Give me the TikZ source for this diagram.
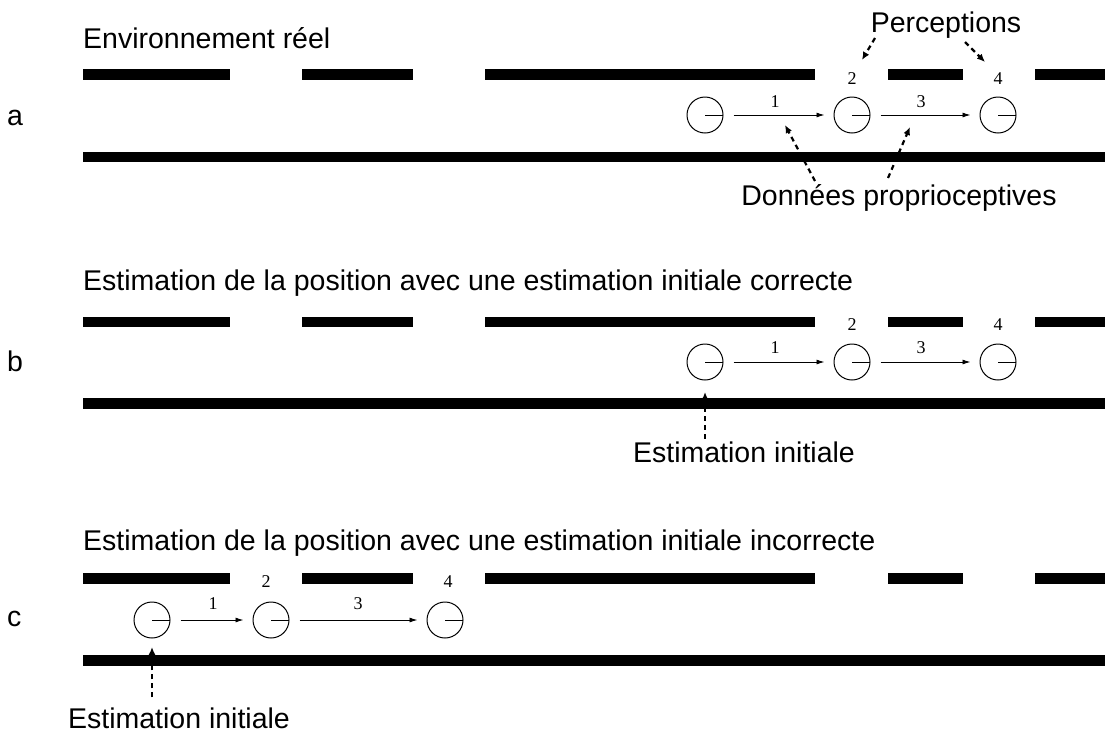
\documentclass[tikz,border=0pt]{standalone}
\usepackage{fontspec}
\setmainfont{Liberation Sans}
\newfontfamily\numfont{Liberation Serif}
\usetikzlibrary{arrows.meta,calc}
\begin{document}
\begin{tikzpicture}[x=1pt,y=-1pt,
  robot/.style={circle,draw,line width=1pt,minimum size=36pt,inner sep=0pt,
    path picture={\draw[line width=1pt] (path picture bounding box.center) -- (path picture bounding box.east);}},
  move/.style={-{Latex[length=8pt,width=5pt]},line width=0.9pt,shorten <=10pt,shorten >=9pt},
  num/.style={font=\numfont\fontsize{18}{20}\selectfont,inner sep=0pt},
  lbl/.style={font=\fontsize{28.5}{32}\selectfont,inner sep=0pt},
  pointer/.style={-{Latex[length=8pt,width=7pt]},line width=2.2pt,dash pattern=on 5pt off 4pt},
  wall/.style={fill=black}]
\useasboundingbox (0,0) rectangle (1105,734);

% walls
\foreach \t/\b in {69.3/151.5, 316.5/398, 573/655}{
  \foreach \l/\r in {83/230, 302/413, 485/815, 888/963, 1035/1105}
    \fill[wall] (\l,\t) rectangle (\r,\t+10.5);
  \fill[wall] (83,\b) rectangle (1105,\b+10.5);
}

% row labels and titles
\node[lbl,anchor=base west] (la) at (7,125.7) {a};
\node[lbl,anchor=base west] (lb) at (7,371.7) {b};
\node[lbl,anchor=base west] (lc) at (7,626.7) {c};
\node[lbl,anchor=base west] (ta) at (83,48.3) {Environnement réel};
\node[lbl,anchor=base west] (tb) at (83,290) {Estimation de la position avec une estimation initiale correcte};
\node[lbl,anchor=base west] (tc) at (83,550) {Estimation de la position avec une estimation initiale incorrecte};

% ---- a
\node[robot] (a1) at (705,115) {};
\node[robot] (a2) at (852,115) {};
\node[robot] (a3) at (998,115) {};
\draw[move] (a1) -- (a2);
\draw[move] (a2) -- (a3);
\node[num] (a1n) at (775,102) {1};
\node[num] (a3n) at (921,102) {3};
\node[num] (a2n) at (852,79) {2};
\node[num] (a4n) at (998,79) {4};

\node[lbl,anchor=base] (perc) at (946,32) {Perceptions};
\coordinate (pt2) at (862,60);
\coordinate (pt4) at (985,62);
\draw[pointer] ($(perc.base)+(-71,6)$) -- (pt2);
\draw[pointer] ($(perc.base)+(19,10)$) -- (pt4);

\node[lbl,anchor=base] (don) at (899,205) {Données proprioceptives};
\coordinate (dt1) at (785,125);
\coordinate (dt3) at (910,127);
\draw[pointer] ($(don.base)+(-84,-24)$) -- (dt1);
\draw[pointer] ($(don.base)+(-11,-27)$) -- (dt3);

% ---- b
\node[robot] (b1) at (705,362) {};
\node[robot] (b2) at (852,362) {};
\node[robot] (b3) at (998,362) {};
\draw[move] (b1) -- (b2);
\draw[move] (b2) -- (b3);
\node[num] (b1n) at (775,348) {1};
\node[num] (b3n) at (921,348) {3};
\node[num] (b2n) at (852,325) {2};
\node[num] (b4n) at (998,325) {4};

\node[lbl,anchor=base] (eib) at (744,462.7) {Estimation initiale};
\coordinate (bt) at (705,392);
\draw[pointer] ($(eib.base -| bt)+(0,-24)$) -- (bt);

% ---- c
\node[robot] (c1) at (152,620) {};
\node[robot] (c2) at (271,620) {};
\node[robot] (c3) at (445,620) {};
\draw[move] (c1) -- (c2);
\draw[move] (c2) -- (c3);
\node[num] (c1n) at (213,604) {1};
\node[num] (c3n) at (358,604) {3};
\node[num] (c2n) at (266,582) {2};
\node[num] (c4n) at (448,582) {4};

\node[lbl,anchor=base] (eic) at (179,728.3) {Estimation initiale};
\coordinate (ct) at (152,647);
\draw[pointer] ($(eic.base -| ct)+(0,-31)$) -- (ct);
\end{tikzpicture}
\end{document}
